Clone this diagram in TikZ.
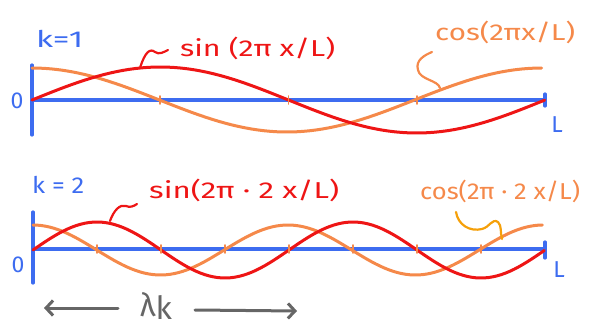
\documentclass[tikz,border=0pt]{standalone}
\usepackage{fontspec}
\setmainfont{Fira Sans}
\usetikzlibrary{arrows.meta}
\begin{document}
\begin{tikzpicture}[x=1pt,y=-1pt,line cap=round,line join=round]
\definecolor{ablue}{HTML}{3D6CF0}
\definecolor{cred}{HTML}{EE1515}
\definecolor{corange}{HTML}{F5894A}
\definecolor{camber}{HTML}{F5A00A}
\definecolor{cgray}{HTML}{666666}
\tikzset{
  axis/.style={ablue,line width=3.2pt},
  sincurve/.style={cred,line width=3pt},
  coscurve/.style={corange,line width=3pt},
  tickmark/.style={corange,line width=1.8pt},
  lbl/.style={font=\fontsize{23}{26}\selectfont,inner sep=0pt},
  arr/.style={cgray,line width=3pt,-{Straight Barb[length=7pt,width=15pt,line width=3pt]}},
}
\useasboundingbox (0,0) rectangle (590,327);
% ---------- top panel ----------
\draw[axis] (32,65) -- (32,135);
\draw[axis] (32,100) -- (545,100);
\draw[axis] (545,94) -- (545,106);
\node[lbl,ablue] (o1) at (17,101) {0};
\node[lbl,ablue] (L1) at (557,125) {L};
\node[lbl,ablue,anchor=west] (k1) at (36,39) {\resizebox{47pt}{\height}{k=1}};
\draw[coscurve] plot[domain=0:1,samples=80] ({32+510*\x},{100-32*cos(360*\x)});
\draw[sincurve] plot[domain=0:1,samples=80] ({32+513*\x},{100-33*sin(360*\x)});
\foreach \t in {0.25,0.5,0.75} \draw[tickmark] ({32+513*\t},96) -- ({32+513*\t},104);
\node[lbl,cred,anchor=west] (s1) at (180,48) {\resizebox{155pt}{\height}{sin (2π x/L)}};
\node[lbl,corange,anchor=west] (c1) at (435,32) {\resizebox{140pt}{\height}{cos(2πx/L)}};
\coordinate (s1p) at (140,68);
\coordinate (c1p) at (440,88);
\draw[sincurve,line width=2.2pt] (s1p) .. controls (145,52) and (150,48) .. (155,52) .. controls (159,55) and (164,52) .. (168,50);
\draw[coscurve,line width=2.2pt] (c1p) .. controls (438,80) and (420,80) .. (418,70) .. controls (415,60) and (425,55) .. (432,52);
% ---------- bottom panel ----------
\draw[axis] (33,212) -- (33,283);
\draw[axis] (33,249) -- (545,249);
\draw[axis] (545,242) -- (545,258);
\node[lbl,ablue] (o2) at (18,265) {0};
\node[lbl,ablue] (L2) at (559,270) {L};
\node[lbl,ablue,anchor=west] (k2) at (32,185) {\resizebox{52pt}{\height}{k = 2}};
\draw[coscurve] plot[domain=0:1,samples=120] ({33+510*\x},{250-25*cos(720*\x)});
\draw[sincurve] plot[domain=0:1,samples=120] ({33+512*\x},{250-28*sin(720*\x)});
\foreach \t in {1,...,7} \draw[tickmark] ({33+512*\t/8},245) -- ({33+512*\t/8},253);
\node[lbl,cred,anchor=west] (s2) at (149,190) {\resizebox{190pt}{\height}{sin(2π · 2 x/L)}};
\node[lbl,corange,anchor=west] (c2) at (420,191) {\resizebox{160pt}{\height}{cos(2π · 2 x/L)}};
\coordinate (s2p) at (110,221);
\coordinate (c2p) at (502,239);
\draw[sincurve,line width=2.2pt] (s2p) .. controls (114,210) and (120,204) .. (126,206) .. controls (130,208) and (134,206) .. (137,204);
\draw[camber,line width=2.2pt] (456,212) .. controls (458,225) and (470,232) .. (482,229) .. controls (490,227) and (492,218) .. (498,222) .. controls (502,226) and (500,232) .. (c2p);
% ---------- lambda_k ----------
\node[lbl,cgray,font=\fontsize{32}{36}\selectfont] (lam) at (156,306) {λ\raisebox{-3pt}{k}};
\coordinate (la) at (44,308);
\coordinate (ra) at (297,311);
\draw[arr] (118,308) -- (la);
\draw[arr] (195,310) -- (ra);
\end{tikzpicture}
\end{document}
